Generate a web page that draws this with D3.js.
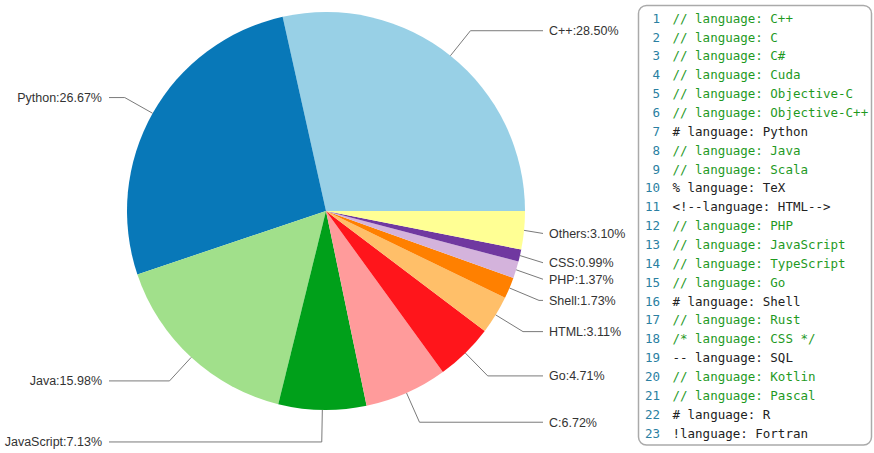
<!DOCTYPE html>
<html>
<head>
<meta charset="utf-8">
<script src="https://cdn.jsdelivr.net/npm/d3@7"></script>
<style>
  body { margin: 0; background: #fff; }
  svg { display: block; }
</style>
</head>
<body>
<div id="chart"></div>
<script>
// pie data (percent of total)
const languages = ['C++', 'Python', 'Java', 'JavaScript', 'C', 'Go', 'HTML', 'Shell', 'PHP', 'CSS', 'Others'];
const shares = [28.50, 26.67, 15.98, 7.13, 6.72, 4.71, 3.11, 1.73, 1.37, 0.99, 3.10];
const colors = ['#98d0e6', '#0878b8', '#a1e08b', '#00a01a', '#ff9b9b', '#ff151b',
                '#ffbf69', '#ff8000', '#d4b3dc', '#7038a0', '#ffff94'];

// code panel lines
const codeLines = [
  '// language: C++', '// language: C', '// language: C#', '// language: Cuda',
  '// language: Objective-C', '// language: Objective-C++', '# language: Python',
  '// language: Java', '// language: Scala', '% language: TeX', '<!--language: HTML-->',
  '// language: PHP', '// language: JavaScript', '// language: TypeScript',
  '// language: Go', '# language: Shell', '// language: Rust', '/* language: CSS */',
  '-- language: SQL', '// language: Kotlin', '// language: Pascal', '# language: R',
  '!language: Fortran'
];
const isGreen = [1, 1, 1, 1, 1, 1, 0, 1, 1, 0, 0, 1, 1, 1, 1, 0, 1, 1, 0, 1, 1, 0, 0];

const width = 874;
const height = 453;
const cx = 326, cy = 211, radius = 199;

const svg = d3.select('#chart')
  .append('svg')
  .attr('width', width)
  .attr('height', height);

const data = languages.map((name, i) => ({ name, value: shares[i], color: colors[i] }));

// counterclockwise from 3 o'clock
const pie = d3.pie()
  .sort(null)
  .value(d => d.value)
  .startAngle(Math.PI / 2)
  .endAngle(Math.PI / 2 - 2 * Math.PI);

const arc = d3.arc().innerRadius(0).outerRadius(radius);
const arcs = pie(data);

const g = svg.append('g').attr('transform', `translate(${cx},${cy})`);

g.selectAll('path')
  .data(arcs)
  .join('path')
  .attr('d', arc)
  .attr('fill', d => d.data.color);

// label lines
const elbowR = radius + 32;
const edgeX = 217;
const pt = (a, r) => [Math.sin(a) * r, -Math.cos(a) * r];

arcs.forEach(d => {
  const a = (d.startAngle + d.endAngle) / 2;
  const p0 = pt(a, radius);
  const p1 = pt(a, elbowR);
  const right = p1[0] > 0;
  const endX = right ? edgeX : -edgeX;
  if (right) p1[0] = Math.min(p1[0], endX);
  else p1[0] = Math.max(p1[0], endX);

  g.append('polyline')
    .attr('points', [p0, p1, [endX, p1[1]]].map(p => p.join(',')).join(' '))
    .attr('fill', 'none')
    .attr('stroke', '#7a7a7a')
    .attr('stroke-width', 1);

  g.append('text')
    .attr('x', right ? endX + 6 : endX - 7)
    .attr('y', p1[1])
    .attr('dy', '0.35em')
    .attr('text-anchor', right ? 'start' : 'end')
    .attr('font-family', 'Liberation Sans, Arial, sans-serif')
    .attr('font-size', 12.5)
    .attr('fill', '#333')
    .text(`${d.data.name}:${d.data.value.toFixed(2)}%`);
});

// code panel
const panel = svg.append('g');
panel.append('rect')
  .attr('x', 638.5).attr('y', 5.5)
  .attr('width', 233).attr('height', 439.5)
  .attr('rx', 8)
  .attr('fill', '#fff')
  .attr('stroke', '#aaa')
  .attr('stroke-width', 1.5);

const lineY = d3.scaleLinear().domain([0, codeLines.length - 1]).range([18.3, 433.3]);

panel.selectAll('text.num')
  .data(codeLines)
  .join('text')
  .attr('class', 'num')
  .attr('x', 660)
  .attr('y', (d, i) => lineY(i))
  .attr('dy', '0.35em')
  .attr('text-anchor', 'end')
  .attr('font-family', 'DejaVu Sans Mono, monospace')
  .attr('font-size', 12.5)
  .attr('fill', '#2a7fa2')
  .text((d, i) => i + 1);

panel.selectAll('text.code')
  .data(codeLines)
  .join('text')
  .attr('class', 'code')
  .attr('x', 672.5)
  .attr('y', (d, i) => lineY(i))
  .attr('dy', '0.35em')
  .attr('font-family', 'DejaVu Sans Mono, monospace')
  .attr('font-size', 12.5)
  .attr('fill', (d, i) => isGreen[i] ? '#1f9a1f' : '#222')
  .style('white-space', 'pre')
  .text(d => d);
</script>
</body>
</html>
